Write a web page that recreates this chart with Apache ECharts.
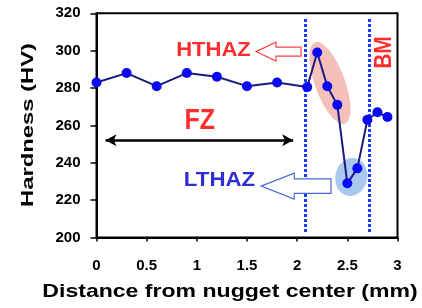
<!DOCTYPE html>
<html><head><meta charset="utf-8">
<script src="https://cdn.jsdelivr.net/npm/echarts@6/dist/echarts.min.js"></script>
<style>html,body{margin:0;padding:0;background:#fff}#c{width:422px;height:308px}</style>
</head><body><div id="c"></div>
<script>
// distance from nugget center (mm)
var distance = [0, 0.3, 0.6, 0.9, 1.2, 1.5, 1.8, 2.1, 2.2, 2.3, 2.4, 2.5, 2.6, 2.7, 2.8, 2.9];
// hardness (HV)
var hardness = [283, 288, 281, 288, 286, 281, 283, 280.5, 299, 281, 271, 229, 237, 263, 267, 264.5];
// zone boundaries (mm)
var boundaries = [2.08, 2.72];
var xTitle = 'Distance from nugget center (mm)';
var yTitle = 'Hardness (HV)';

var FONT = '"Liberation Sans", Arial, sans-serif';
var chart = echarts.init(document.getElementById('c'), null, {renderer: 'canvas'});

var pts = distance.map(function (d, i) { return [d, hardness[i]]; });

var option = {
  animation: false,
  backgroundColor: '#fff',
  grid: {left: 96.5, right: 24.5, top: 13.3, bottom: 70.5, show: true, borderColor: '#000', borderWidth: 2, backgroundColor: 'transparent'},
  xAxis: {
    type: 'value', min: 0, max: 3, interval: 0.5,
    axisLine: {show: true, lineStyle: {color: '#000', width: 2}},
    axisTick: {show: true, length: 4, lineStyle: {color: '#000', width: 1.5}},
    axisLabel: {margin: 21, color: '#000', fontFamily: FONT, fontWeight: 'bold', fontSize: 15},
    splitLine: {show: false}
  },
  yAxis: {
    type: 'value', min: 200, max: 320, interval: 20,
    axisLine: {show: true, lineStyle: {color: '#000', width: 2}},
    axisTick: {show: true, length: 6, lineStyle: {color: '#000', width: 1.5}},
    axisLabel: {margin: 16, color: '#000', fontFamily: FONT, fontWeight: 'bold', fontSize: 15},
    splitLine: {show: false}
  },
  series: [
    {
      type: 'line', data: [], silent: true, z: 3,
      markLine: {
        silent: true, symbol: ['none', 'none'], label: {show: false},
        lineStyle: {color: '#1a3cff', width: 3, type: [3, 2]},
        data: boundaries.map(function (b) { return [{coord: [b, 202.9]}, {coord: [b, 317.5]}]; })
      }
    },
    {
      type: 'line', data: [], silent: true, z: 3,
      markLine: {
        silent: true, symbol: ['arrow', 'arrow'], symbolSize: [9, 11], label: {show: false},
        lineStyle: {color: '#000', width: 2.5, type: 'solid'},
        data: [[{coord: [0.09, 252]}, {coord: [1.96, 252]}]]
      }
    },
    {
      type: 'line', data: pts, z: 5,
      symbol: 'circle', symbolSize: 10,
      lineStyle: {color: '#1a1a80', width: 2},
      itemStyle: {color: '#0a0af0', borderWidth: 0}
    }
  ]
};
chart.setOption(option);

function px(x, y) { return chart.convertToPixel({gridIndex: 0}, [x, y]); }

function hollowArrow(tipX, headX, tailX, yv, headH, bodyH, stroke, fill) {
  var t = px(tipX, yv), h = px(headX, yv), e = px(tailX, yv);
  var cy = t[1];
  return {
    type: 'polygon', z: 10, silent: true,
    shape: {points: [[t[0], cy], [h[0], cy - headH], [h[0], cy - bodyH], [e[0], cy - bodyH], [e[0], cy + bodyH], [h[0], cy + bodyH], [h[0], cy + headH]]},
    style: {fill: fill, stroke: stroke, lineWidth: 1.2}
  };
}

function label(text, xv, yv, size, color, sx, sy, rot) {
  var p = px(xv, yv);
  return {
    type: 'text', z: 11, silent: true, x: p[0], y: p[1], scaleX: sx, scaleY: sy, rotation: rot || 0,
    style: {text: text, fill: color, font: 'bold ' + size + 'px ' + FONT, align: 'center', verticalAlign: 'middle', textAlign: 'center', textVerticalAlign: 'middle'}
  };
}

var pc = px(2.327, 282.7), bc = px(2.54, 232.4);
var graphics = [
  {type: 'circle', z: 1, silent: true, x: pc[0], y: pc[1], scaleX: 1, scaleY: 2.9, rotation: 0.35,
   shape: {r: 15}, style: {fill: '#f6c0ba'}},
  {type: 'circle', z: 1, silent: true, x: bc[0], y: bc[1], scaleX: 1, scaleY: 1.2, rotation: -0.2,
   shape: {r: 16}, style: {fill: '#a9c8f0'}},
  hollowArrow(1.589, 1.789, 2.038, 299.5, 9.5, 4.5, '#ff4040', '#fff'),
  hollowArrow(1.64, 1.971, 2.337, 227.5, 13, 7.2, '#4a66dd', '#fff'),
  label('HTHAZ', 1.166, 300.0, 21, '#ff2d2d', 1.05, 1, 0),
  label('FZ', 1.03, 262.3, 25, '#ff2d2d', 1, 1.2, 0),
  label('LTHAZ', 1.226, 230.4, 21, '#2f2fd0', 1.06, 1, 0),
  label('BM', 2.87, 299, 21, '#ff2d2d', 1, 1.13, Math.PI / 2),
  {type: 'text', z: 11, silent: true, x: 28, y: 125, rotation: Math.PI / 2, scaleX: 1.4, scaleY: 1,
   style: {text: yTitle, fill: '#000', font: 'bold 17px ' + FONT, align: 'center', verticalAlign: 'middle', textAlign: 'center', textVerticalAlign: 'middle'}},
  {type: 'text', z: 11, silent: true, x: 230, y: 292, scaleX: 1.24, scaleY: 1,
   style: {text: xTitle, fill: '#000', font: 'bold 18.6px ' + FONT, align: 'center', verticalAlign: 'middle', textAlign: 'center', textVerticalAlign: 'middle'}}
];
chart.setOption({graphic: graphics});
</script></body></html>
